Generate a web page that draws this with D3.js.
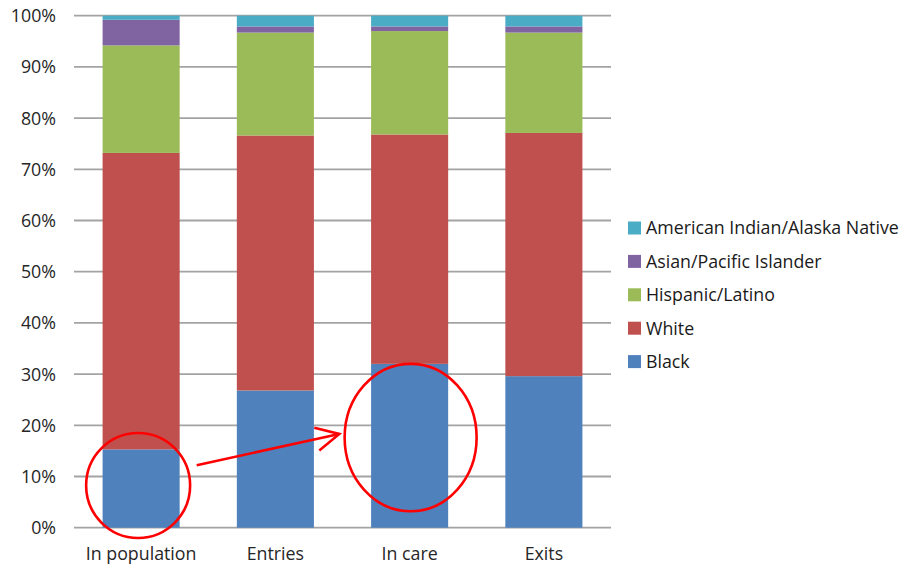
<!DOCTYPE html>
<html>
<head>
<meta charset="utf-8">
<script src="https://cdn.jsdelivr.net/npm/d3@7/dist/d3.min.js"></script>
<style>
  html, body { margin: 0; padding: 0; background: #fff; }
  svg { display: block; }
  text { font-family: "Open Sans", "DejaVu Sans", sans-serif; }
</style>
</head>
<body>
<svg id="chart" width="905" height="565"></svg>
<script>
// ---- data ----
const categories = ["In population", "Entries", "In care", "Exits"];
const seriesNames = ["Black", "White", "Hispanic/Latino", "Asian/Pacific Islander", "American Indian/Alaska Native"];
const black    = [15.3, 26.8, 32.0, 29.6];
const white    = [57.9, 49.8, 44.8, 47.5];
const hispanic = [21.0, 20.1, 20.2, 19.6];
const asian    = [5.0, 1.2, 0.9, 1.2];
const aian     = [0.8, 2.1, 2.1, 2.1];
const yTicks = [0, 10, 20, 30, 40, 50, 60, 70, 80, 90, 100];
const colors = ["#4F81BD", "#C0504D", "#9BBB59", "#8064A2", "#4BACC6"];

const seriesValues = [black, white, hispanic, asian, aian];
const table = categories.map((c, i) => {
  const row = { category: c };
  seriesNames.forEach((s, j) => row[s] = seriesValues[j][i]);
  return row;
});

// ---- layout ----
const svg = d3.select("#chart");
const x = d3.scaleBand().domain(categories).range([74, 611]).paddingInner(0.426).paddingOuter(0.213);
const y = d3.scaleLinear().domain([0, 100]).range([527.7, 15.7]);
const fs = 17.8;

// gridlines
svg.append("g").selectAll("line").data(yTicks).join("line")
  .attr("x1", 74).attr("x2", 611)
  .attr("y1", d => y(d)).attr("y2", d => y(d))
  .attr("stroke", "#a3a3a3").attr("stroke-width", 1.8);

// y labels
svg.append("g").selectAll("text").data(yTicks).join("text")
  .attr("x", 56).attr("y", d => y(d)).attr("dy", "0.36em")
  .attr("text-anchor", "end").attr("font-size", fs).attr("fill", "#262626")
  .text(d => d + "%");

// bars
const stack = d3.stack().keys(seriesNames)(table);
const bars = svg.append("g");
stack.forEach((layer, j) => {
  bars.append("g").attr("fill", colors[j]).selectAll("rect").data(layer).join("rect")
    .attr("x", d => x(d.data.category))
    .attr("width", x.bandwidth())
    .attr("y", d => y(d[1]))
    .attr("height", d => y(d[0]) - y(d[1]));
});

// x labels
svg.append("g").selectAll("text").data(categories).join("text")
  .attr("x", d => x(d) + x.bandwidth() / 2).attr("y", 559.5)
  .attr("text-anchor", "middle").attr("font-size", fs).attr("fill", "#262626")
  .text(d => d);

// legend (reverse order)
const legendItems = seriesNames.map((s, j) => ({ name: s, color: colors[j] })).reverse();
const lg = svg.append("g").selectAll("g").data(legendItems).join("g")
  .attr("transform", (d, i) => `translate(628, ${228 + i * 33.4})`);
lg.append("rect").attr("x", 0).attr("y", -6.5).attr("width", 13).attr("height", 13).attr("fill", d => d.color);
lg.append("text").attr("x", 18).attr("y", 0).attr("dy", "0.36em")
  .attr("font-size", fs).attr("fill", "#1a1a1a").text(d => d.name);

// annotations
const ann = svg.append("g").attr("fill", "none").attr("stroke", "#ff0000").attr("stroke-width", 2.6);
const c0 = x(categories[0]) + x.bandwidth() / 2;
const c2 = x(categories[2]) + x.bandwidth() / 2;
ann.append("ellipse").attr("cx", c0 - 3).attr("cy", y(8.25)).attr("rx", 52).attr("ry", y(0) - y(10.25));
ann.append("ellipse").attr("cx", c2 + 1).attr("cy", y(17.6)).attr("rx", 66).attr("ry", y(0) - y(14.4));
const tip = [339.3, y(18.3)];
ann.append("line").attr("x1", 196.7).attr("y1", y(12.2)).attr("x2", tip[0]).attr("y2", tip[1]);
ann.append("polyline").attr("points", `314.3,${y(19.5)} ${tip[0]},${tip[1]} 319.3,${y(15.1)}`);
</script>
</body>
</html>
